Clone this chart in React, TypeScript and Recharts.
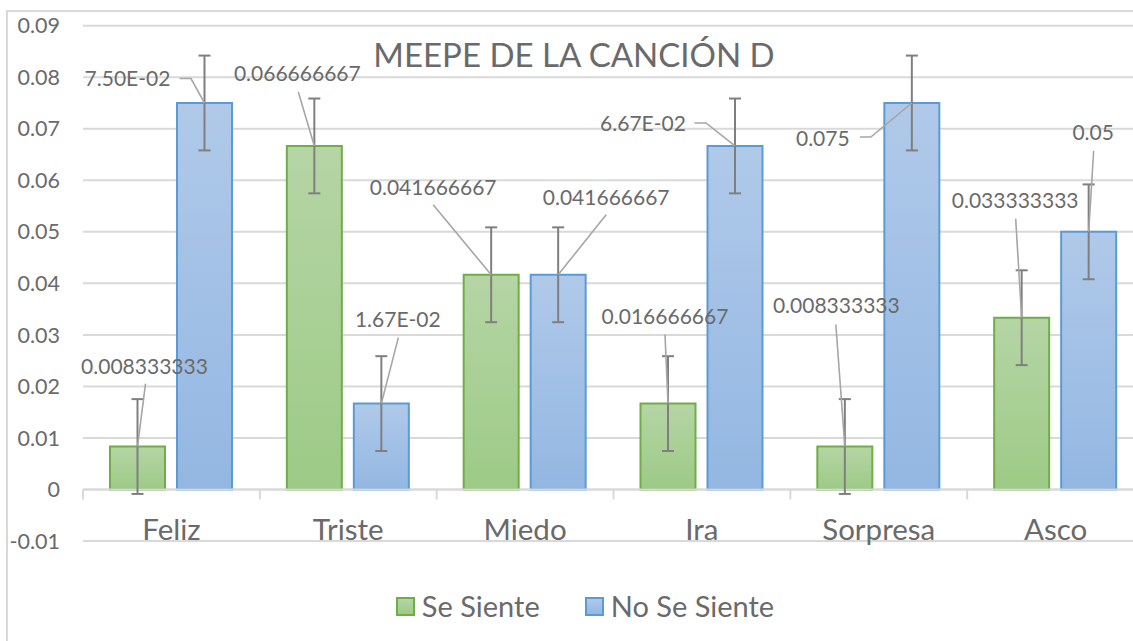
import React from 'react';
import { BarChart, Bar, XAxis, YAxis, CartesianGrid, ErrorBar, LabelList, ReferenceLine } from 'recharts';

const title = 'MEEPE DE LA CANCIÓN D';
const categories = ['Feliz', 'Triste', 'Miedo', 'Ira', 'Sorpresa', 'Asco'];
const seriesNames = ['Se Siente', 'No Se Siente'];
const seSiente = [0.008333333, 0.066666667, 0.041666667, 0.016666667, 0.008333333, 0.033333333];
const noSeSiente = [0.075, 0.016666667, 0.041666667, 0.066666667, 0.075, 0.05];
const seSienteErr = [0.0092, 0.0092, 0.0092, 0.0092, 0.0092, 0.0092];
const noSeSienteErr = [0.0092, 0.0092, 0.0092, 0.0092, 0.0092, 0.0092];
const seSienteLabels = ['0.008333333', '0.066666667', '0.041666667', '0.016666667', '0.008333333', '0.033333333'];
const noSeSienteLabels = ['7.50E-02', '1.67E-02', '0.041666667', '6.67E-02', '0.075', '0.05'];
const yTicks = [-0.01, 0, 0.01, 0.02, 0.03, 0.04, 0.05, 0.06, 0.07, 0.08, 0.09];
const yTickLabels = ['-0.01', '0', '0.01', '0.02', '0.03', '0.04', '0.05', '0.06', '0.07', '0.08', '0.09'];

// label placement relative to the top centre of each bar (layout only)
const seLabelPos = [
  { dx: 7, dy: -80, lx: 8, ly: -63 },
  { dx: -17, dy: -72, lx: -16, ly: -54 },
  { dx: -58, dy: -87, lx: -58, ly: -70 },
  { dx: -3, dy: -87, lx: -3, ly: -69 },
  { dx: -8.5, dy: -141, lx: -9, ly: -122 },
  { dx: -6.5, dy: -117, lx: -6, ly: -99 },
];
const noLabelPos = [
  { dx: -77, dy: -25, lx: -25, ly: -24.5, ex: -13.5 },
  { dx: 16.5, dy: -84, lx: 17, ly: -66 },
  { dx: 48, dy: -77, lx: 48, ly: -60 },
  { dx: -92, dy: -22, lx: -40.6, ly: -23, ex: -29 },
  { dx: -89, dy: 35, lx: -52, ly: 34, ex: -41 },
  { dx: 4.5, dy: -99, lx: 5, ly: -81 },
];

const data = categories.map((name, i) => ({
  name,
  se: seSiente[i],
  no: noSeSiente[i],
  seErr: seSienteErr[i],
  noErr: noSeSienteErr[i],
}));

const FONT = 'Lato, "Open Sans", sans-serif';
const TEXT = '#6a6a6a';
const GRID = '#d9d9d9';

const makeLabel = (texts: string[], pos: any[]) => (props: any) => {
  const { x, y, width, index } = props;
  const p = pos[index];
  if (!p) return null;
  const cx = Number(x) + Number(width) / 2;
  const cy = Number(y);
  const pts: string[] = [`${cx + p.lx},${cy + p.ly}`];
  if (p.ex !== undefined) pts.push(`${cx + p.ex},${cy + p.ly}`);
  pts.push(`${cx},${cy}`);
  return (
    <g>
      <polyline points={pts.join(' ')} fill="none" stroke="#a6a6a6" strokeWidth={1.6} />
      <text
        x={cx + p.dx}
        y={cy + p.dy}
        dy="0.36em"
        textAnchor="middle"
        fontFamily={FONT}
        fontSize={21}
        fill={TEXT}
      >
        {texts[index]}
      </text>
    </g>
  );
};

const AxisZero = (props: any) => {
  const { x1, y1, x2 } = props;
  const n = categories.length;
  const step = (x2 - x1) / n;
  const ticks = [];
  for (let i = 0; i <= n; i++) {
    ticks.push(<line key={i} x1={x1 + i * step} x2={x1 + i * step} y1={y1} y2={y1 + 10} stroke={GRID} strokeWidth={2} />);
  }
  return (
    <g>
      <line x1={x1} x2={x2} y1={y1} y2={y1} stroke={GRID} strokeWidth={2} />
      {ticks}
    </g>
  );
};

const CatTick = (props: any) => {
  const { x, y, payload } = props;
  return (
    <text x={x} y={y - 1} textAnchor="middle" fontFamily={FONT} fontSize={29.5} fill={TEXT}>
      {payload.value}
    </text>
  );
};

const yFmt = (v: number) => {
  const i = yTicks.findIndex((t) => Math.abs(t - v) < 1e-9);
  return i >= 0 ? yTickLabels[i] : String(v);
};

const swatch = (id: 'g' | 'b') => ({
  width: 15,
  height: 15,
  border: `2px solid ${id === 'g' ? '#70ad47' : '#5b9bd5'}`,
  background: id === 'g' ? 'linear-gradient(#b5d5a5, #9dca86)' : 'linear-gradient(#b0c9e9, #93b7e2)',
  marginRight: 7,
  display: 'inline-block',
});

export default function App() {
  return (
    <div style={{ position: 'absolute', left: 0, top: 0, width: 1133, height: 641, overflow: 'hidden', background: '#fff' }}>
      <div style={{ position: 'absolute', left: 6, top: 10, width: 1200, height: 700, border: `2px solid ${GRID}` }} />
      <div style={{ position: 'absolute', left: 0, top: 0 }}>
        <BarChart
          width={1150}
          height={641}
          data={data}
          margin={{ top: 25.7, right: 6, bottom: 70, left: 0 }}
          barSize={55}
          barGap={12}
        >
          <defs>
            <linearGradient id="gradG" x1="0" y1="0" x2="0" y2="1">
              <stop offset="0%" stopColor="#b5d5a5" />
              <stop offset="100%" stopColor="#9dca86" />
            </linearGradient>
            <linearGradient id="gradB" x1="0" y1="0" x2="0" y2="1">
              <stop offset="0%" stopColor="#b0c9e9" />
              <stop offset="100%" stopColor="#93b7e2" />
            </linearGradient>
          </defs>
          <CartesianGrid vertical={false} stroke={GRID} strokeWidth={2} />
          <XAxis
            dataKey="name"
            axisLine={false}
            tickLine={false}
            tickSize={0}
            tickMargin={0}
            height={30}
            tick={<CatTick />}
            interval={0}
          />
          <YAxis
            domain={[-0.01, 0.09]}
            ticks={yTicks}
            tickFormatter={yFmt}
            width={83}
            axisLine={false}
            tickLine={false}
            tickSize={0}
            tickMargin={23}
            allowDataOverflow
            tick={{ fontFamily: FONT, fontSize: 21.5, fill: TEXT }}
          />
          <ReferenceLine y={0} shape={<AxisZero />} />
          <Bar dataKey="se" name={seriesNames[0]} fill="url(#gradG)" stroke="#70ad47" strokeWidth={2} isAnimationActive={false}>
            <ErrorBar dataKey="seErr" width={6} stroke="#7f7f7f" strokeWidth={2} direction="y" />
            <LabelList dataKey="se" content={makeLabel(seSienteLabels, seLabelPos)} />
          </Bar>
          <Bar dataKey="no" name={seriesNames[1]} fill="url(#gradB)" stroke="#5b9bd5" strokeWidth={2} isAnimationActive={false}>
            <ErrorBar dataKey="noErr" width={6} stroke="#7f7f7f" strokeWidth={2} direction="y" />
            <LabelList dataKey="no" content={makeLabel(noSeSienteLabels, noLabelPos)} />
          </Bar>
        </BarChart>
      </div>
      <svg style={{ position: 'absolute', left: 0, top: 0, pointerEvents: 'none' }} width={1133} height={641}>
        <text x={574} y={66.7} textAnchor="middle" fontFamily={FONT} fontSize={33} fill={TEXT}>
          {title}
        </text>
      </svg>
      <div
        style={{
          position: 'absolute',
          left: 0,
          top: 589,
          width: 1170,
          display: 'flex',
          justifyContent: 'center',
          alignItems: 'center',
          fontFamily: FONT,
          fontSize: 29,
          color: TEXT,
          lineHeight: '34px',
        }}
      >
        <span style={{ display: 'flex', alignItems: 'center', marginRight: 45 }}>
          <span style={swatch('g')} />
          {seriesNames[0]}
        </span>
        <span style={{ display: 'flex', alignItems: 'center' }}>
          <span style={swatch('b')} />
          {seriesNames[1]}
        </span>
      </div>
    </div>
  );
}
